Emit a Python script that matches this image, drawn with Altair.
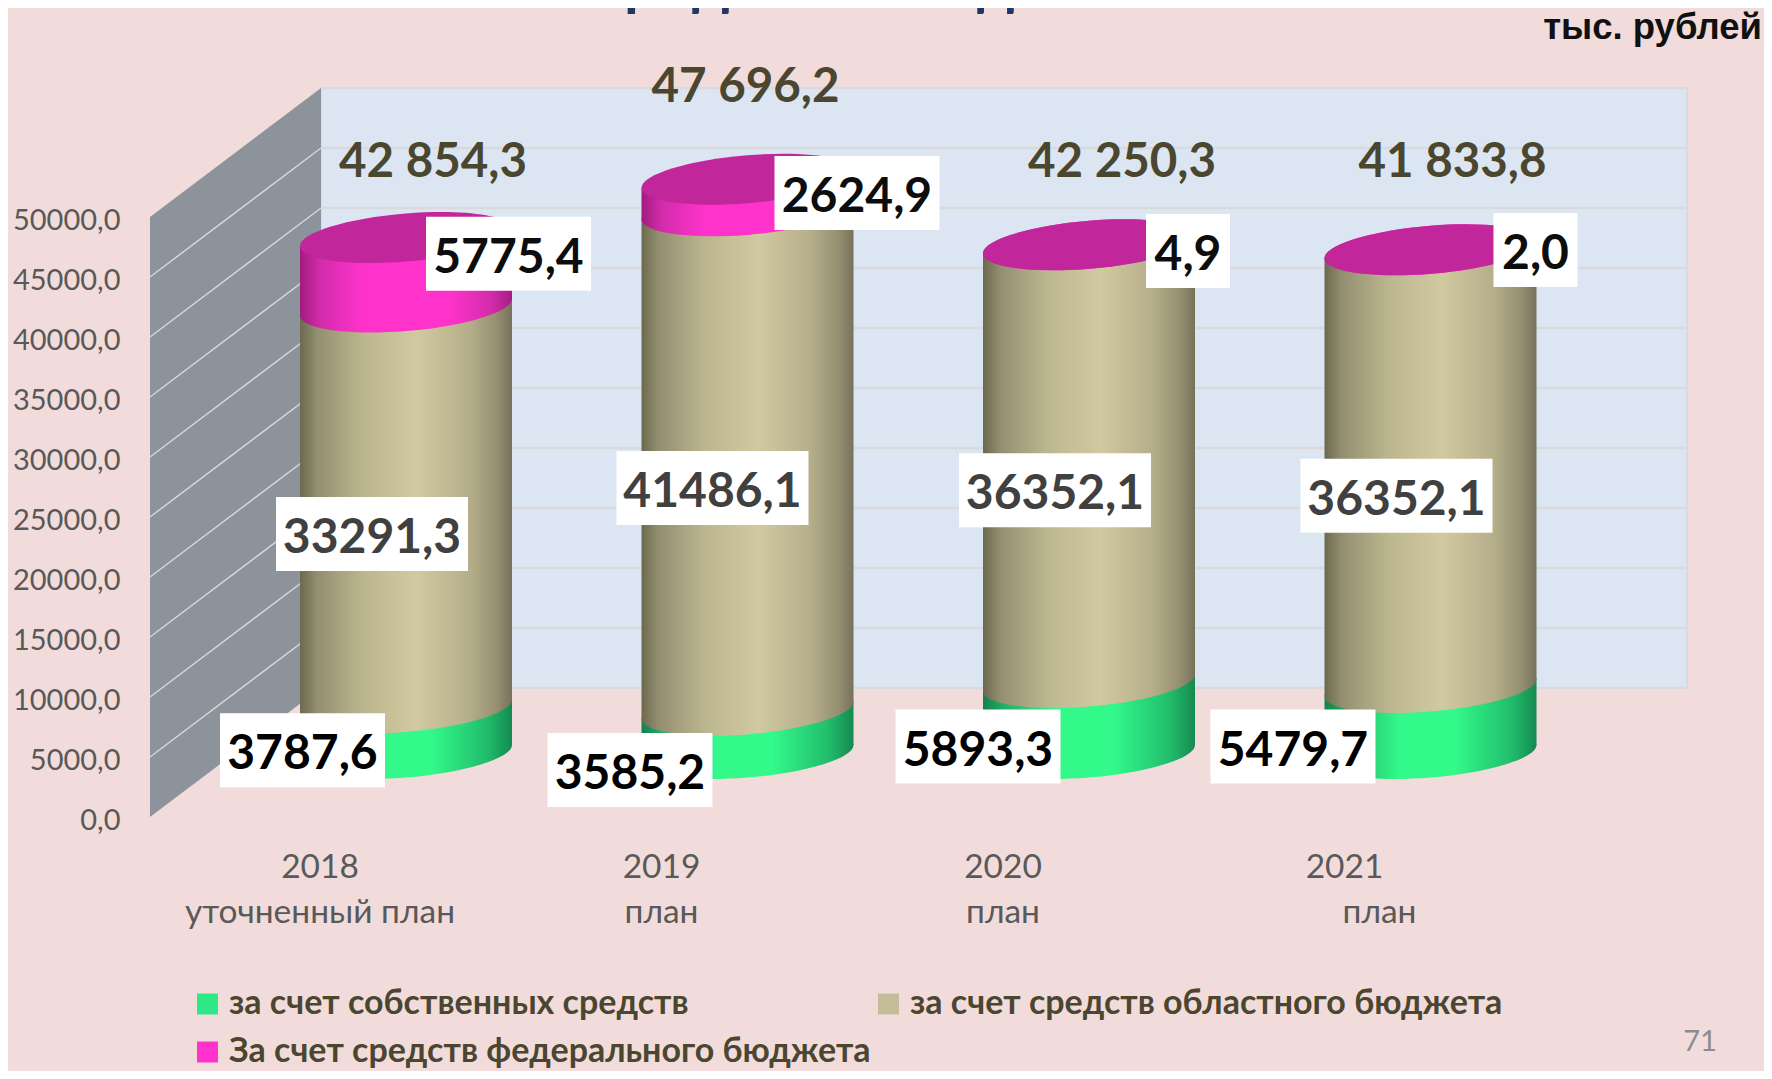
import altair as alt
import pandas as pd

# ---- values
YEARS = ["2018", "2019", "2020", "2021"]
PLAN_LINE = ["уточненный план", "план", "план", "план"]
OWN = [3787.6, 3585.2, 5893.3, 5479.7]
REGIONAL = [33291.3, 41486.1, 36352.1, 36352.1]
FEDERAL = [5775.4, 2624.9, 4.9, 2.0]
TOTALS = [42854.3, 47696.2, 42250.3, 41833.8]
SERIES = ["за счет собственных средств", "за счет средств областного бюджета",
          "За счет средств федерального бюджета"]
TICKS = list(range(0, 50001, 5000))

# ---- geometry of the fake 3-D scene
W, H = 1756, 1063
STEP = 341.5            # px between cylinders
PX_PER_UNIT = 0.01204   # px per rouble-thousand on the value scale
BASE_X, BASE_Y = 398.0, 745.5
HALF = 106 / STEP
TILT = 8.5 / PX_PER_UNIT


def xu(px):
    return px / STEP


def vu(px):
    return px / PX_PER_UNIT


x_scale = alt.Scale(domain=[-BASE_X / STEP, (W - BASE_X) / STEP], nice=False, zero=False)
y_scale = alt.Scale(domain=[vu(BASE_Y - H), vu(BASE_Y)], nice=False, zero=False)
X = lambda f: alt.X(f, type="quantitative", scale=x_scale, axis=None)
Y = lambda f: alt.Y(f, type="quantitative", scale=y_scale, axis=None)
X2 = lambda f: alt.X2(f)
Y2 = lambda f: alt.Y2(f)

WALL_K = 12.0 / 12.04
BACK_L, BACK_R, FRONT_L = xu(-85), xu(1281), xu(-256)
back_v = lambda t: vu(65.5) + t * WALL_K
front_v = lambda t: vu(-63.5) + t * WALL_K


def grad(stops):
    return alt.Gradient(
        gradient="linear", x1=0, x2=1, y1=0, y2=0,
        stops=[alt.GradientStop(offset=o, color=c) for o, c in stops],
    )


G_GREEN = grad([(0, "#15804c"), (0.1, "#1fb066"), (0.35, "#33f88a"), (0.62, "#33f88a"),
                (0.88, "#22bd6c"), (1, "#158a50")])
G_BEIGE = grad([(0, "#6b694f"), (0.08, "#938e70"), (0.3, "#bcb68f"), (0.55, "#d1c9a0"),
                (0.8, "#b5ae8a"), (0.93, "#958f71"), (1, "#76715a")])
G_PINK = grad([(0, "#a11c7f"), (0.1, "#d42cab"), (0.3, "#ff33cc"), (0.7, "#ff33cc"),
               (0.9, "#d42cab"), (1, "#a81d85")])
CAP = "#c1279a"

# tilted ellipse for the cylinder sections
k, ry, sh = 0.5523, 0.2268, 0.0802


def P(u, v):
    return f"{u:.4f} {ry * v - sh * u:.4f}"


ELLIPSE = (f"M {P(-1, 0)} C {P(-1, -k)} {P(-k, -1)} {P(0, -1)} "
           f"C {P(k, -1)} {P(1, -k)} {P(1, 0)} "
           f"C {P(1, k)} {P(k, 1)} {P(0, 1)} "
           f"C {P(-k, 1)} {P(-1, k)} {P(-1, 0)} Z")
ELL_SIZE = 212 ** 2

# ---- walls
back = pd.DataFrame({"x": [BACK_L], "x2": [BACK_R], "y": [back_v(0)], "y2": [back_v(50000)]})
back_layer = alt.Chart(back).mark_rect(fill="#dce6f2", stroke="#d6dbe4", strokeWidth=2).encode(
    x=X("x"), x2=X2("x2"), y=Y("y"), y2=Y2("y2"))
back_grid = alt.Chart(pd.DataFrame({
    "t": TICKS, "x": BACK_L, "x2": BACK_R, "y": [back_v(t) for t in TICKS]
})).mark_rule(color="#d9dade", strokeWidth=2.5).encode(x=X("x"), x2=X2("x2"), y=Y("y"))

side = pd.DataFrame({"x": [FRONT_L, BACK_L], "top": [front_v(50000), back_v(50000)],
                     "bot": [front_v(0), back_v(0)]})
side_layer = alt.Chart(side).mark_area(color="#8c939b").encode(
    x=X("x"), y=alt.Y("top", type="quantitative", scale=y_scale, axis=None, stack=None), y2=Y2("bot"))

side_rows = []
for t in TICKS[1:-1]:
    side_rows.append({"t": t, "x": FRONT_L, "y": front_v(t)})
    side_rows.append({"t": t, "x": BACK_L, "y": back_v(t)})
side_grid = alt.Chart(pd.DataFrame(side_rows)).mark_line(color="#d4d6d8", strokeWidth=1.5).encode(
    x=X("x"), y=Y("y"), detail="t:N")

# ---- the real value axis, invisible rules carrying it
axis_layer = alt.Chart(pd.DataFrame({"t": TICKS})).mark_rule(opacity=0).encode(
    y=alt.Y("t:Q", scale=alt.Scale(domain=[0, 50000], range=[812, 212], nice=False),
            axis=alt.Axis(orient="left", values=TICKS, grid=False, domain=False, ticks=False,
                          title=None, offset=-112, labelPadding=0, labelOverlap=False,
                          labelFont="Lato", labelFontSize=29, labelColor="#595959",
                          labelExpr="replace(format(datum.value,'.1f'),'.',',')")))

# ---- cylinders
sections = [("own", OWN, G_GREEN), ("reg", REGIONAL, G_BEIGE), ("fed", FEDERAL, G_PINK)]
cyl_layers = []
seg_rows = []
lows = [0.0] * 4
for name, vals, g in sections:
    rows, ell = [], []
    for i, v in enumerate(vals):
        lo, hi = lows[i], lows[i] + v
        rows.append({"i": i, "x": i - HALF, "y": hi - TILT, "y2": lo - TILT})
        rows.append({"i": i, "x": i + HALF, "y": hi + TILT, "y2": lo + TILT})
        ell.append({"x": float(i), "y": lo})
        seg_rows.append({"name": name, "i": i, "v": v, "mid": (lo + hi) / 2})
        lows[i] = hi
    cyl_layers.append(alt.Chart(pd.DataFrame(rows)).mark_area(fill=g).encode(
        x=X("x"), y=alt.Y("y", type="quantitative", scale=y_scale, axis=None, stack=None),
        y2=Y2("y2"), detail="i:N"))
    cyl_layers.append(alt.Chart(pd.DataFrame(ell)).mark_point(
        shape=ELLIPSE, filled=True, fill=g, size=ELL_SIZE, opacity=1, strokeWidth=0
    ).encode(x=X("x"), y=Y("y")))

caps = pd.DataFrame({"x": [0.0, 1.0, 2.0, 3.0], "y": lows})
cap_layer = alt.Chart(caps).mark_point(
    shape=ELLIPSE, filled=True, fill=CAP, size=ELL_SIZE, opacity=1, strokeWidth=0
).encode(x=X("x"), y=Y("y"))

# ---- value labels on white boxes (placement offsets in px from section centre)
LABEL_DX = {"own": [-103.5, -117.5, -111, -137.5], "reg": [-34, -35, -34, -34], "fed": [102.5, 109.5, 99, 105]}
LABEL_DY = {"own": [19.5, 38.1, 28.5, 26], "reg": [26.5, 27.5, 26.5, 27], "fed": [-18.5, -2, 6.2, 0.2]}
LABEL_COLOR = {"own": "#000000", "reg": "#404040", "fed": "#0d0d0d"}
BOX_W = {6: 165, 7: 192, 3: 84}
rows = []
for r in seg_rows:
    txt = f"{r['v']:.1f}".replace(".", ",")
    cx = r["i"] + xu(LABEL_DX[r["name"]][r["i"]])
    cy = r["mid"] - vu(LABEL_DY[r["name"]][r["i"]])
    bw = BOX_W[len(txt)]
    rows.append({"txt": txt, "name": r["name"], "x": cx, "y": cy, "x0": cx - xu(bw / 2), "x1": cx + xu(bw / 2),
                 "y0": cy - vu(37), "y1": cy + vu(37)})
lab = pd.DataFrame(rows)
box_layer = alt.Chart(lab).mark_rect(fill="#ffffff", strokeWidth=0).encode(
    x=X("x0"), x2=X2("x1"), y=Y("y0"), y2=Y2("y1"))
lab_layers = [
    alt.Chart(lab[lab["name"] == n]).mark_text(
        font="Lato", fontWeight="bold", fontSize=48, baseline="middle", dy=5, color=c
    ).encode(x=X("x"), y=Y("y"), text="txt:N")
    for n, c in LABEL_COLOR.items()
]

# ---- totals
TOTAL_DX = [27, -2, 33, 22]
TOTAL_DY = [74.5, 91.5, 81.5, 86.5]
tot = pd.DataFrame({
    "txt": [f"{v:,.1f}".replace(",", " ").replace(".", ",") for v in TOTALS],
    "x": [i + xu(d) for i, d in enumerate(TOTAL_DX)],
    "y": [t + vu(d) for t, d in zip(TOTALS, TOTAL_DY)],
})
tot_layer = alt.Chart(tot).mark_text(font="Lato", fontWeight="bold", fontSize=47.5, baseline="middle",
                                     color="#4b4630").encode(x=X("x"), y=Y("y"), text="txt:N")

# ---- category labels
CAT_DX = [-86, -86, -86, -86]
PLAN_DX = [-86, -86, -86, -51]
cat = pd.DataFrame({"txt": YEARS, "x": [i + xu(d) for i, d in enumerate(CAT_DX)], "y": vu(-114.5)})
plan = pd.DataFrame({"txt": PLAN_LINE, "x": [i + xu(d) for i, d in enumerate(PLAN_DX)], "y": vu(-159.5)})
cat_style = dict(font="Lato", fontSize=33.5, baseline="middle", color="#595959")
cat_layer = alt.Chart(cat).mark_text(**cat_style).encode(x=X("x"), y=Y("y"), text="txt:N")
plan_layer = alt.Chart(plan).mark_text(**cat_style).encode(x=X("x"), y=Y("y"), text="txt:N")


# ---- free annotations
def note(txt, x, y, **kw):
    kw.setdefault("baseline", "middle")
    return alt.Chart(pd.DataFrame({"t": [txt]})).mark_text(**kw).encode(
        x=alt.value(x), y=alt.value(y), text="t:N")


unit = note("тыс. рублей", 1754, 20, align="right", font="Liberation Sans", fontWeight="bold",
            fontSize=36.5, color="#111111")
page = note("71", 1692, 1034, font="Lato", fontSize=29, color="#8c8c8c")
title = note("городе Вологодске", 828, -4, baseline="alphabetic", font="Lato", fontWeight="bold",
             fontSize=60, color="#203864")

# ---- real legend
legend_df = pd.DataFrame({"s": SERIES})
legend_layer = alt.Chart(legend_df).mark_square(opacity=1).encode(
    x=alt.value(-200), y=alt.value(-200),
    color=alt.Color("s:N", sort=SERIES,
                    scale=alt.Scale(domain=SERIES, range=["#2de884", "#c4bd97", "#ff33cc"]),
                    legend=alt.Legend(orient="none", legendX=182.5, legendY=979, columns=2,
                                      direction="horizontal", title=None, symbolType="square",
                                      symbolSize=441, symbolOpacity=1, symbolStrokeWidth=0,
                                      labelFont="Lato", labelFontWeight="bold", labelFontSize=34,
                                      labelColor="#4b4630", labelLimit=800, labelOffset=4.5,
                                      columnPadding=0, rowPadding=14)))

layers = [back_layer, back_grid, side_layer, side_grid, axis_layer] + cyl_layers + [
    cap_layer, box_layer] + lab_layers + [tot_layer, cat_layer, plan_layer, unit, page, title, legend_layer]

chart = alt.layer(*layers).resolve_scale(y="independent").properties(
    width=W, height=H, padding=0, background="#f2dcdb",
    autosize=alt.AutoSizeParams(type="none"),
).configure_view(stroke=None)

chart.save("out.html", embed_options={"renderer": "svg", "actions": False})
